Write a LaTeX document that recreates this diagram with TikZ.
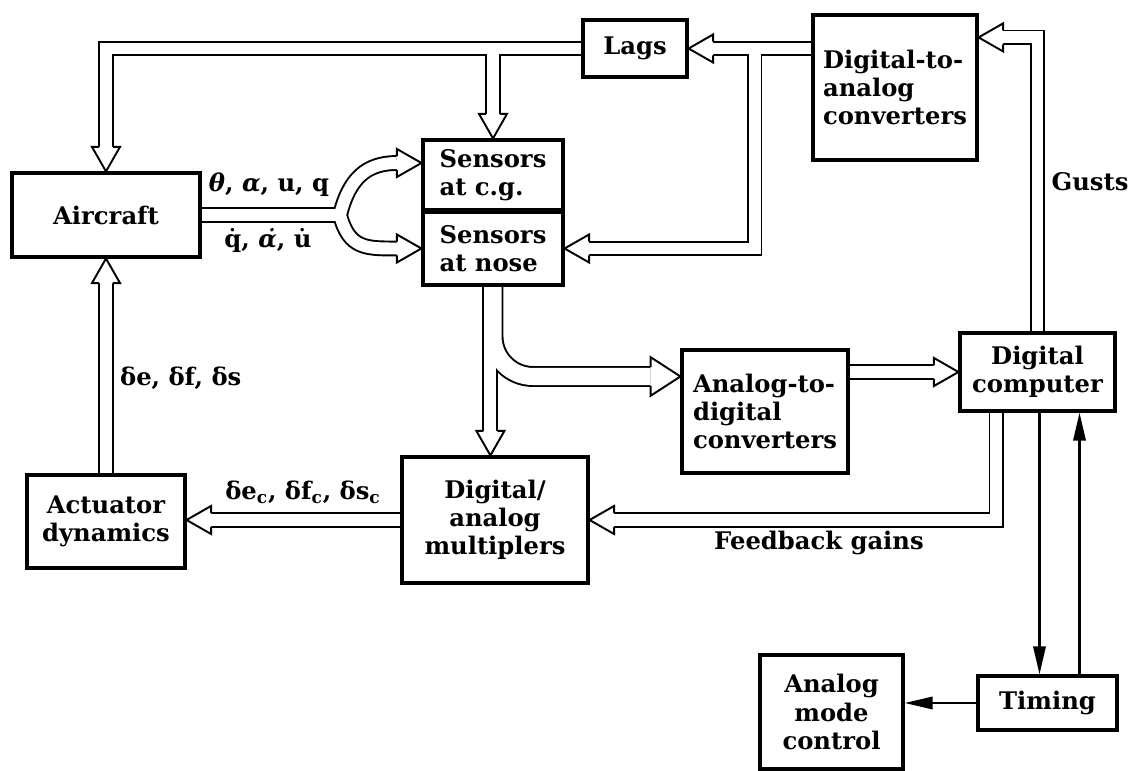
\documentclass[tikz,border=0pt]{standalone}
\usepackage{fontspec}
\setmainfont{DejaVu Serif}
\usetikzlibrary{arrows.meta, positioning, calc}
\pgfdeclarelayer{background}
\pgfsetlayers{background,main}

% hollow double-line connectors, drawn twice (outline, then inside) so branches merge
\newcommand{\pipes}[1]{%
  \draw[pipe #1] (lags.west) -| (aircraft.north);
  \draw[pipe #1] (lags.west) -| (cg.north);
  \draw[pipe #1] (dac.west |- lags.east) -- (lags.east);
  \draw[pipe #1] (dac.west |- lags.east) -| ($(nose.east)+(190,0)$) -- (nose.east);
  \draw[pipe #1] (computer.north) |- (dacin);
  \draw[pipe #1] (aircraft.east) -- (fork) .. controls (349,592) and (366,608) .. (cgin);
  \draw[pipe #1] (aircraft.east) -- (fork) .. controls (349,522) and (366,522.5) .. (nose.west);
  \draw[wide pipe #1, rounded corners=0.8cm] (nose.south) |- (adin);
  \draw[pipe #1] (multin |- nose.south) -- (multin);
  \draw[pipe #1] (a2d.east |- computer.west) -- (computer.west);
  \draw[pipe #1] (gainsout) |- (mult.east);
  \draw[pipe #1] (mult.west) -- (mult.west -| actuator.east);
  \draw[pipe #1] (actuator.north) -- (aircraft.south);
}

\begin{document}
\begin{tikzpicture}[
    x=0.02cm, y=0.02cm,
    font=\fontsize{13.8}{16}\selectfont\bfseries,
    box/.style={rectangle, draw, line width=1.8pt, fill=white, align=center, inner sep=2pt},
    lbl/.style={inner sep=1pt},
    pipe out/.style={line width=9pt, shorten >=14pt},
    pipe in/.style={white, line width=6.8pt, shorten >=14pt},
    wide pipe out/.style={line width=11.9pt, shorten >=17pt},
    wide pipe in/.style={white, line width=9.7pt, shorten >=17pt},
    head/.pic={\draw[line width=1.1pt, fill=white] (-14pt,3.95pt) -- (-14pt,8pt) -- (0,0) -- (-14pt,-8pt) -- (-14pt,-3.95pt);},
    wide head/.pic={\draw[line width=1.1pt, fill=white] (-17pt,5.4pt) -- (-17pt,11pt) -- (0,0) -- (-17pt,-11pt) -- (-17pt,-5.4pt);},
    thinarrow/.style={line width=1.4pt, -{Triangle[length=16pt, width=7pt]}}
]
\useasboundingbox (0,0) rectangle (1137,771);

% blocks
\node[box, minimum width=3.76cm, minimum height=1.68cm] (aircraft) at (106,556) {Aircraft};
\node[box, align=left, minimum width=2.8cm, minimum height=1.4cm] (cg) at (493,596) {Sensors\\at c.g.};
\node[box, align=left, minimum width=2.8cm, minimum height=1.46cm] (nose) at (493,522.5) {Sensors\\at nose};
\node[box, minimum width=2.08cm, minimum height=1.14cm] (lags) at (635,722.5) {Lags};
\node[box, align=left, minimum width=3.28cm, minimum height=2.9cm] (dac) at (895,683.5) {Digital-to-\\analog\\converters};
\node[box, align=left, minimum width=3.32cm, minimum height=2.46cm] (a2d) at (765,359.5) {Analog-to-\\digital\\converters};
\node[box, minimum width=3.1cm, minimum height=1.56cm] (computer) at (1037.5,399) {Digital\\computer};
\node[box, minimum width=3.72cm, minimum height=2.52cm] (mult) at (495,251) {Digital/\\analog\\multiplers};
\node[box, minimum width=3.16cm, minimum height=1.86cm] (actuator) at (106,249.5) {Actuator\\dynamics};
\node[box, minimum width=2.86cm, minimum height=2.28cm] (amc) at (831.5,59) {Analog\\mode\\control};
\node[box, minimum width=2.78cm, minimum height=1.08cm] (timing) at (1047.5,68) {Timing};

% labels
\node[lbl] (states) at (269,586) {\textit{θ}, \textit{α}, u, q};
\node[lbl] (rates) at (268,531) {\.{q}, \textit{\.{α}}, \.{u}};
\node[lbl, anchor=west] (surf) at (118,393) {δe, δf, δs};
\node[lbl] (surfcmd) at (303,279) {δe\textsubscript{c}, δf\textsubscript{c}, δs\textsubscript{c}};
\node[lbl] (gains) at (819,228) {Feedback gains};
\node[lbl] (gusts) at (1090,589) {Gusts};

% way points
\coordinate (fork) at (340,556);
\coordinate (cgin) at ($(cg.west)+(0,12)$);
\coordinate (dacin) at ($(dac.north east)+(0,-24)$);
\coordinate (adin) at ($(a2d.west)+(0,35)$);
\coordinate (multin) at ($(mult.north)+(-4.6,0)$);
\coordinate (gainsout) at ($(computer.south west)+(38,0)$);

\begin{pgfonlayer}{background}
\pipes{out}
\pipes{in}
\end{pgfonlayer}

\pic[rotate=-90] at (aircraft.north) {head};
\pic[rotate=-90] at (cg.north) {head};
\pic[rotate=180] at (lags.east) {head};
\pic[rotate=180] at (nose.east) {head};
\pic[rotate=180] at (dacin) {head};
\pic at (cgin) {head};
\pic at (nose.west) {head};
\pic at (adin) {wide head};
\pic[rotate=-90] at (multin) {head};
\pic at (computer.west) {head};
\pic[rotate=180] at (mult.east) {head};
\pic[rotate=180] at (mult.west -| actuator.east) {head};
\pic[rotate=90] at (aircraft.south) {head};

% timing signals
\coordinate (clockdown) at ($(computer.south)+(2,0)$);
\coordinate (clockup) at ($(computer.south)+(42,0)$);
\draw[thinarrow] (clockdown) -- (clockdown |- timing.north);
\draw[thinarrow] (clockup |- timing.north) -- (clockup);
\draw[thinarrow] (timing.west) -- (timing.west -| amc.east);
\end{tikzpicture}
\end{document}
